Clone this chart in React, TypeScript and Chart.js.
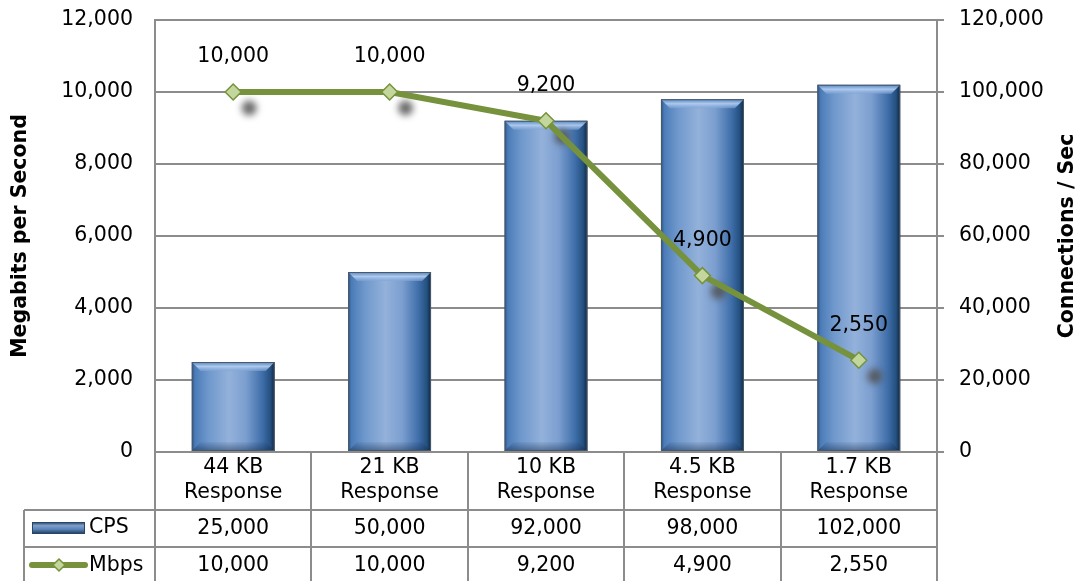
import React, { useEffect, useRef } from 'react';
import { Chart, registerables } from 'chart.js';

Chart.register(...registerables);

const categoryTop = ['44 KB', '21 KB', '10 KB', '4.5 KB', '1.7 KB'];
const categoryBottom = ['Response', 'Response', 'Response', 'Response', 'Response'];
const cpsValues = [25000, 50000, 92000, 98000, 102000];
const mbpsValues = [10000, 10000, 9200, 4900, 2550];
const leftAxisTitle = 'Megabits per Second';
const rightAxisTitle = 'Connections / Sec';
const cpsLabel = 'CPS';
const mbpsLabel = 'Mbps';

const FONT = '"DejaVu Sans", Verdana, sans-serif';
const FS = 20.5;
const GRID = '#8c8c8c';
const GREEN = '#76923c';
const GREEN_LIGHT = '#c3d69b';

const fmt = (v: number) => v.toLocaleString('en-US');

function drawBar(ctx: CanvasRenderingContext2D, x0: number, x1: number, top: number, bottom: number) {
  const w = x1 - x0;
  const h = bottom - top;
  const b = Math.min(9, h / 2);
  const g = ctx.createLinearGradient(x0, 0, x1, 0);
  g.addColorStop(0, '#2c5384');
  g.addColorStop(0.04, '#4b7cb8');
  g.addColorStop(0.2, '#6f98cc');
  g.addColorStop(0.45, '#93b1da');
  g.addColorStop(0.65, '#7c9fd0');
  g.addColorStop(0.85, '#3f6ea9');
  g.addColorStop(0.95, '#24507f');
  g.addColorStop(1, '#0f2540');
  ctx.fillStyle = g;
  ctx.fillRect(x0, top, w, h);
  const tg = ctx.createLinearGradient(0, top, 0, top + b);
  tg.addColorStop(0, 'rgba(85,132,191,0.95)');
  tg.addColorStop(0.5, 'rgba(176,204,240,0.95)');
  tg.addColorStop(1, 'rgba(127,163,212,0.6)');
  ctx.fillStyle = tg;
  ctx.beginPath();
  ctx.moveTo(x0, top);
  ctx.lineTo(x1, top);
  ctx.lineTo(x1 - b, top + b);
  ctx.lineTo(x0 + b, top + b);
  ctx.closePath();
  ctx.fill();
  const bg = ctx.createLinearGradient(0, bottom - b, 0, bottom);
  bg.addColorStop(0, 'rgba(20,45,80,0.05)');
  bg.addColorStop(1, 'rgba(20,45,80,0.5)');
  ctx.fillStyle = bg;
  ctx.beginPath();
  ctx.moveTo(x0, bottom);
  ctx.lineTo(x1, bottom);
  ctx.lineTo(x1 - b, bottom - b);
  ctx.lineTo(x0 + b, bottom - b);
  ctx.closePath();
  ctx.fill();
  ctx.strokeStyle = '#4a5868';
  ctx.lineWidth = 1;
  ctx.strokeRect(x0 + 0.5, top + 0.5, w - 1, h - 1);
}

function drawDiamond(ctx: CanvasRenderingContext2D, x: number, y: number, r: number) {
  ctx.beginPath();
  ctx.moveTo(x, y - r);
  ctx.lineTo(x + r, y);
  ctx.lineTo(x, y + r);
  ctx.lineTo(x - r, y);
  ctx.closePath();
  ctx.fillStyle = GREEN_LIGHT;
  ctx.fill();
  ctx.strokeStyle = GREEN;
  ctx.lineWidth = 1.5;
  ctx.stroke();
}

const customPlugin = {
  id: 'customDraw',
  beforeDatasetDraw(chart: any, args: any) {
    const meta = args.meta;
    if (meta.type !== 'line') return;
    const ctx: CanvasRenderingContext2D = chart.ctx;
    ctx.save();
    ctx.filter = 'blur(3.5px)';
    ctx.fillStyle = 'rgba(80,80,80,0.85)';
    for (const el of meta.data) {
      const { x, y } = el.getProps(['x', 'y'], true);
      ctx.beginPath();
      ctx.arc(x + 16, y + 16, 7.5, 0, Math.PI * 2);
      ctx.fill();
    }
    ctx.filter = 'none';
    ctx.restore();
  },
  afterDatasetDraw(chart: any, args: any) {
    const meta = args.meta;
    if (meta.type !== 'bar') return;
    const ctx: CanvasRenderingContext2D = chart.ctx;
    ctx.save();
    for (const el of meta.data) {
      const { x, y, base, width } = el.getProps(['x', 'y', 'base', 'width'], true);
      drawBar(ctx, x - width / 2, x + width / 2, y, base);
    }
    ctx.restore();
  },
  afterDatasetsDraw(chart: any) {
    const ctx: CanvasRenderingContext2D = chart.ctx;
    const lineIdx = chart.data.datasets.findIndex((d: any) => d.type === 'line');
    const meta = chart.getDatasetMeta(lineIdx);
    ctx.save();
    ctx.font = `${FS}px ${FONT}`;
    ctx.fillStyle = '#000';
    ctx.textAlign = 'center';
    ctx.textBaseline = 'middle';
    meta.data.forEach((el: any, i: number) => {
      const { x, y } = el.getProps(['x', 'y'], true);
      ctx.fillText(fmt(mbpsValues[i]), x, y - 35);
    });
    ctx.restore();
  },
  afterDraw(chart: any) {
    const ctx: CanvasRenderingContext2D = chart.ctx;
    const area = chart.chartArea;
    const xs = chart.scales.x;
    const n = categoryTop.length;
    const step = (area.right - area.left) / n;
    const row1 = area.bottom + 58;
    const row2 = row1 + 37;
    const bottom = chart.height;
    const legendLeft = 24;
    ctx.save();
    ctx.strokeStyle = GRID;
    ctx.lineWidth = 2;
    for (let i = 0; i <= n; i++) {
      const x = Math.round(area.left + step * i);
      ctx.beginPath();
      ctx.moveTo(x, area.bottom);
      ctx.lineTo(x, bottom);
      ctx.stroke();
    }
    ctx.beginPath();
    ctx.moveTo(legendLeft, row1);
    ctx.lineTo(legendLeft, bottom);
    ctx.stroke();
    for (const yy of [row1, row2]) {
      ctx.beginPath();
      ctx.moveTo(legendLeft, yy);
      ctx.lineTo(area.right, yy);
      ctx.stroke();
    }
    ctx.font = `${FS}px ${FONT}`;
    ctx.fillStyle = '#000';
    ctx.textAlign = 'center';
    ctx.textBaseline = 'middle';
    for (let i = 0; i < n; i++) {
      const cx = xs.getPixelForValue(i);
      ctx.fillText(categoryTop[i], cx, area.bottom + 16);
      ctx.fillText(categoryBottom[i], cx, area.bottom + 41);
      ctx.fillText(fmt(cpsValues[i]), cx, row1 + 19);
      ctx.fillText(fmt(mbpsValues[i]), cx, row2 + 19);
    }
    ctx.textAlign = 'left';
    ctx.fillText(cpsLabel, 89, row1 + 18);
    ctx.fillText(mbpsLabel, 89, row2 + 19);
    const sg = ctx.createLinearGradient(0, row1 + 12, 0, row1 + 24);
    sg.addColorStop(0, '#1f3d62');
    sg.addColorStop(0.3, '#7f9fcc');
    sg.addColorStop(0.6, '#5a84ba');
    sg.addColorStop(1, '#1a3556');
    ctx.fillStyle = sg;
    ctx.fillRect(32, row1 + 12, 53, 12);
    ctx.strokeStyle = '#2a4466';
    ctx.lineWidth = 1;
    ctx.strokeRect(32.5, row1 + 12.5, 52, 11);
    ctx.strokeStyle = GREEN;
    ctx.lineWidth = 6;
    ctx.lineCap = 'round';
    ctx.beginPath();
    ctx.moveTo(32, row2 + 18);
    ctx.lineTo(85, row2 + 18);
    ctx.stroke();
    drawDiamond(ctx, 59, row2 + 18, 6);
    ctx.font = `bold ${FS}px ${FONT}`;
    ctx.fillStyle = '#000';
    ctx.textAlign = 'center';
    ctx.textBaseline = 'middle';
    const midY = (area.top + area.bottom) / 2;
    ctx.save();
    ctx.translate(21, midY);
    ctx.rotate(-Math.PI / 2);
    ctx.fillText(leftAxisTitle, 0, 0);
    ctx.restore();
    ctx.save();
    ctx.translate(1068, midY);
    ctx.rotate(-Math.PI / 2);
    ctx.fillText(rightAxisTitle, 0, 0);
    ctx.restore();
    ctx.restore();
  },
};

export default function App() {
  const ref = useRef<HTMLCanvasElement | null>(null);
  useEffect(() => {
    if (!ref.current) return;
    const chart = new Chart(ref.current, {
      type: 'bar',
      data: {
        labels: categoryTop,
        datasets: [
          {
            type: 'line',
            label: mbpsLabel,
            data: mbpsValues,
            yAxisID: 'y',
            borderColor: GREEN,
            borderWidth: 6,
            pointStyle: 'rectRot',
            pointRadius: 8,
            pointBackgroundColor: GREEN_LIGHT,
            pointBorderColor: GREEN,
            pointBorderWidth: 1.5,
            tension: 0,
            order: 0,
          } as any,
          {
            type: 'bar',
            label: cpsLabel,
            data: cpsValues,
            yAxisID: 'y1',
            backgroundColor: 'rgba(0,0,0,0)',
            borderWidth: 0,
            barPercentage: 0.53,
            categoryPercentage: 1,
            order: 1,
          } as any,
        ],
      },
      options: {
        responsive: false,
        animation: false,
        layout: { padding: { top: 20, left: 0, right: 0, bottom: 0 } },
        plugins: {
          legend: { display: false },
          tooltip: { enabled: false },
          title: { display: false },
        },
        scales: {
          x: {
            type: 'category',
            offset: true,
            ticks: { display: false },
            grid: { display: false },
            border: { display: false },
            afterFit: (s: any) => {
              s.height = 129;
            },
          },
          y: {
            position: 'left',
            min: 0,
            max: 12000,
            ticks: {
              stepSize: 2000,
              padding: 22,
              color: '#000',
              font: { family: FONT, size: FS },
              callback: (v: any) => fmt(Number(v)),
            },
            grid: { color: GRID, lineWidth: 2, drawTicks: false },
            border: { display: true, color: GRID, width: 2 },
            afterFit: (s: any) => {
              s.width = 155;
              s.paddingTop = 0;
              s.paddingBottom = 0;
            },
          },
          y1: {
            position: 'right',
            min: 0,
            max: 120000,
            ticks: {
              stepSize: 20000,
              padding: 15,
              color: '#000',
              font: { family: FONT, size: FS },
              callback: (v: any) => fmt(Number(v)),
            },
            grid: { color: GRID, lineWidth: 2, drawOnChartArea: false, drawTicks: true, tickLength: 7 },
            border: { display: true, color: GRID, width: 2 },
            afterFit: (s: any) => {
              s.width = 144;
              s.paddingTop = 0;
              s.paddingBottom = 0;
            },
          },
        },
      } as any,
      plugins: [customPlugin],
    });
    return () => chart.destroy();
  }, []);
  return (
    <div style={{ position: 'absolute', left: 0, top: 0, width: 1081, height: 581, background: '#fff' }}>
      <canvas ref={ref} width={1081} height={581} style={{ display: 'block' }} />
    </div>
  );
}
